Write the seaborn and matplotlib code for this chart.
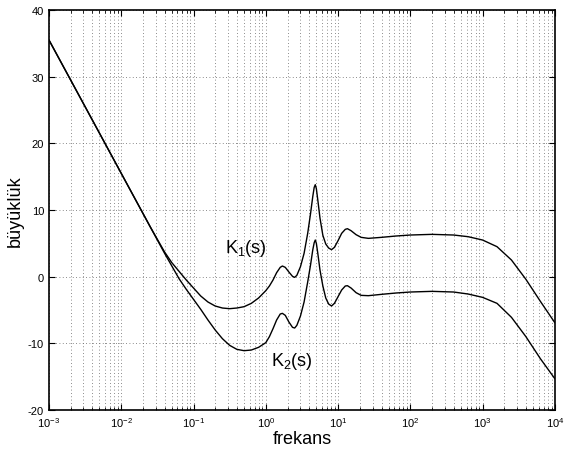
import numpy as np
import pandas as pd
import seaborn as sns
import matplotlib.pyplot as plt
from matplotlib.ticker import LogLocator, NullFormatter

# Values (log10 of frequency, magnitude)
log_freq = [-3.0, -2.5, -2.0, -1.6, -1.4, -1.3, -1.2, -1.1, -1.0, -0.9, -0.8,
            -0.7, -0.6, -0.5, -0.4, -0.3, -0.2, -0.1, 0.0, 0.05, 0.10, 0.15,
            0.20, 0.23, 0.27, 0.32, 0.37, 0.40, 0.43, 0.48, 0.53, 0.58, 0.62,
            0.65, 0.67, 0.685, 0.70, 0.72, 0.75, 0.79, 0.83, 0.87, 0.91, 0.95,
            1.00, 1.05, 1.10, 1.13, 1.18, 1.25, 1.32, 1.42, 1.6, 1.8, 2.0,
            2.3, 2.6, 2.8, 3.0, 3.2, 3.4, 3.6, 3.8, 4.0]

k1_mag = [35.5, 25.5, 15.5, 7.5, 3.7, 2.1, 0.8, -0.5, -1.7, -2.9, -3.8,
          -4.4, -4.7, -4.8, -4.7, -4.5, -4.0, -3.2, -2.1, -1.4, -0.5, 0.6,
          1.4, 1.6, 1.4, 0.7, 0.05, -0.1, 0.2, 1.5, 3.5, 6.5, 9.5,
          12.0, 13.4, 13.8, 13.2, 11.5, 8.8, 6.2, 4.9, 4.3, 4.05, 4.4,
          5.4, 6.5, 7.1, 7.2, 6.9, 6.3, 5.9, 5.75, 5.9, 6.1, 6.25,
          6.35, 6.25, 6.0, 5.5, 4.5, 2.5, -0.4, -3.7, -6.9]

k2_mag = [35.5, 25.5, 15.5, 7.5, 3.5, 1.6, -0.3, -1.9, -3.4, -4.9, -6.5,
          -8.0, -9.3, -10.3, -10.9, -11.1, -11.0, -10.6, -9.9, -9.0, -7.8, -6.5,
          -5.6, -5.5, -5.8, -6.8, -7.6, -7.7, -7.3, -5.9, -3.8, -0.8, 1.8,
          4.0, 5.1, 5.5, 5.0, 3.5, 1.0, -1.4, -3.2, -4.1, -4.4, -4.0,
          -3.0, -2.0, -1.4, -1.35, -1.7, -2.4, -2.8, -2.85, -2.65, -2.45, -2.3,
          -2.2, -2.3, -2.6, -3.1, -4.0, -6.1, -9.0, -12.3, -15.3]

x_ticks = [1e-3, 1e-2, 1e-1, 1e0, 1e1, 1e2, 1e3, 1e4]
x_ticklabels = ["$10^{-3}$", "$10^{-2}$", "$10^{-1}$", "$10^{0}$",
                "$10^{1}$", "$10^{2}$", "$10^{3}$", "$10^{4}$"]
y_ticks = [-20, -10, 0, 10, 20, 30, 40]

freq = 10.0 ** np.array(log_freq)
df = pd.DataFrame({
    "frekans": np.concatenate([freq, freq]),
    "mag": k1_mag + k2_mag,
    "curve": ["K1"] * len(freq) + ["K2"] * len(freq),
})

sns.set_style("ticks")
plt.rcParams["font.family"] = ["Liberation Sans", "DejaVu Sans"]
plt.rcParams["mathtext.fontset"] = "custom"
plt.rcParams["mathtext.rm"] = "Liberation Sans"
plt.rcParams["mathtext.it"] = "Liberation Sans:italic"
plt.rcParams["axes.unicode_minus"] = False
plt.rcParams["text.color"] = "black"
plt.rcParams["axes.labelcolor"] = "black"
plt.rcParams["xtick.color"] = "black"
plt.rcParams["ytick.color"] = "black"

fig = plt.figure(figsize=(5.65, 4.6), dpi=100)
ax = fig.add_axes([0.0867, 0.1065, 0.8953, 0.8695])

sns.lineplot(data=df, x="frekans", y="mag", hue="curve",
             palette=["black", "black"], linewidth=1.0, legend=False,
             sort=False, estimator=None, ax=ax)

ax.set_xscale("log")
ax.set_xlim(1e-3, 1e4)
ax.set_ylim(-20, 40)
ax.set_xticks(x_ticks)
ax.set_xticklabels(x_ticklabels)
ax.set_yticks(y_ticks)
ax.set_yticklabels([str(v) for v in y_ticks])
ax.xaxis.set_minor_locator(LogLocator(base=10, subs=np.arange(2, 10), numticks=100))
ax.xaxis.set_minor_formatter(NullFormatter())

ax.grid(True, which="major", axis="both", linestyle=(0, (1, 3)),
        color="#666666", linewidth=0.6)
ax.grid(True, which="minor", axis="x", linestyle=(0, (1, 3)),
        color="#666666", linewidth=0.6)

ax.tick_params(which="both", direction="in", top=True, right=True,
               labelsize=8, color="black", labelcolor="black")
ax.tick_params(which="major", length=4)
ax.tick_params(which="minor", length=2)
for s in ax.spines.values():
    s.set_linewidth(1.2)
    s.set_color("black")

ax.set_xlabel("frekans", fontsize=13, labelpad=1, color="black")
ax.set_ylabel("büyüklük", fontsize=13, labelpad=3, color="black")

ax.text(0.27, 3.75, "K$_1$(s)", fontsize=13, ha="left", va="baseline", color="black")
ax.text(1.2, -13.3, "K$_2$(s)", fontsize=13, ha="left", va="baseline", color="black")

fig.savefig("out.png", dpi=100)
